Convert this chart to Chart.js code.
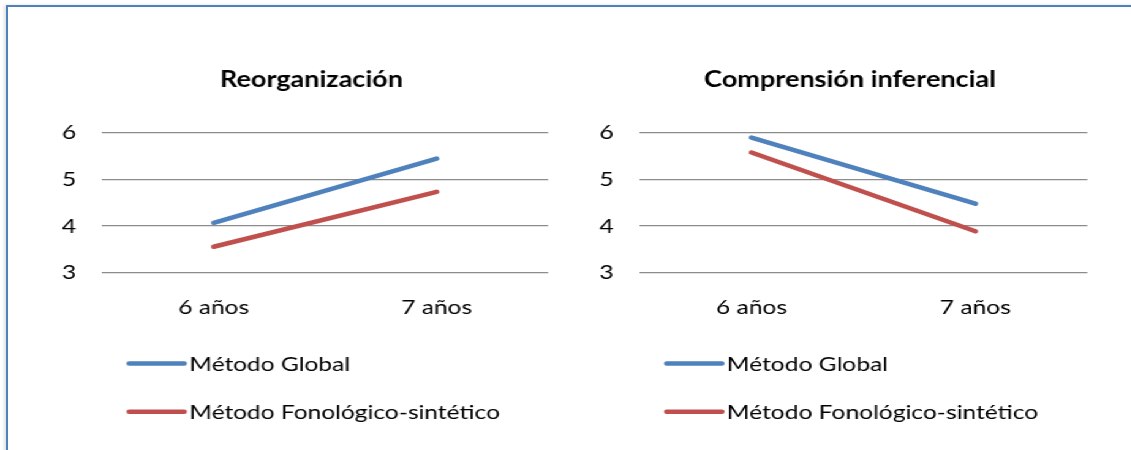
<!DOCTYPE html>
<html>
<head>
<meta charset="utf-8">
<script src="https://cdn.jsdelivr.net/npm/chart.js@4.4.0/dist/chart.umd.min.js"></script>
<style>
  html, body { margin: 0; padding: 0; background: #fff; }
  body { width: 1131px; height: 450px; position: relative; overflow: hidden; }
  #frame {
    position: absolute; left: 6px; top: 5px; width: 1200px; height: 500px;
    border-top: 2px solid #4f81bd; border-left: 2px solid #4f81bd;
    box-shadow: -2px 0 3px rgba(0,0,0,0.12);
  }
  /* the whole figure is drawn a little narrow and stretched sideways */
  #stage { position: absolute; left: 0; top: 0; height: 450px; transform-origin: 0 0; }
  .box { position: absolute; top: 40px; height: 410px; }
</style>
</head>
<body>
<div id="frame"></div>
<div id="stage">
  <div class="box" id="left-box"><canvas id="chart-left"></canvas></div>
  <div class="box" id="right-box"><canvas id="chart-right"></canvas></div>
</div>

<script>
const categories = ["6 años", "7 años"];
const seriesNames = ["Método Global", "Método Fonológico-sintético"];
const seriesColors = ["#4f81bd", "#c0504d"];

const reorgGlobal = [4.07, 5.44];
const reorgFonologico = [3.56, 4.73];

const inferGlobal = [5.89, 4.48];
const inferFonologico = [5.57, 3.89];

const yMin = 3;
const yMax = 6;

const FONT = "Lato";
const STRETCH = 1.225;

const stage = document.getElementById("stage");
stage.style.width = (1131 / STRETCH) + "px";
stage.style.transform = "scaleX(" + STRETCH + ")";

function placeBox(id, left, width) {
  const el = document.getElementById(id);
  el.style.left = (left / STRETCH) + "px";
  el.style.width = (width / STRETCH) + "px";
}
placeBox("left-box", 40, 542);
placeBox("right-box", 580, 540);

// legend drawn as two stacked rows under the x axis
const stackedLegend = {
  id: "stackedLegend",
  afterDraw(chart) {
    const ctx = chart.ctx;
    const area = chart.chartArea;
    ctx.save();
    chart.data.datasets.forEach((ds, i) => {
      const y = area.bottom + 90.5 + i * 48.3;
      const x0 = area.left + 27 / STRETCH;
      ctx.strokeStyle = ds.borderColor;
      ctx.lineWidth = 4.5;
      ctx.lineCap = "round";
      ctx.beginPath();
      ctx.moveTo(x0, y);
      ctx.lineTo(x0 + 55 / STRETCH, y);
      ctx.stroke();
      ctx.fillStyle = "#000";
      ctx.font = "20px " + FONT;
      ctx.textBaseline = "middle";
      ctx.textAlign = "left";
      ctx.fillText(ds.label, x0 + 60 / STRETCH, y + 1);
    });
    ctx.restore();
  }
};

// pad: side padding; spacer: width of an empty right axis that keeps the title centred
function makeChart(canvasId, title, globalVals, fonoVals, pad, spacer) {
  return new Chart(document.getElementById(canvasId), {
    type: "line",
    plugins: [stackedLegend],
    data: {
      labels: categories,
      datasets: [
        { label: seriesNames[0], data: globalVals, borderColor: seriesColors[0] },
        { label: seriesNames[1], data: fonoVals, borderColor: seriesColors[1] }
      ].map(d => Object.assign(d, {
        borderWidth: 4.5,
        borderCapStyle: "round",
        pointRadius: 0,
        tension: 0,
        fill: false
      }))
    },
    options: {
      responsive: true,
      maintainAspectRatio: false,
      animation: false,
      layout: { padding: { left: pad / STRETCH, right: pad / STRETCH, top: 0, bottom: 115 } },
      plugins: {
        legend: { display: false },
        tooltip: { enabled: false },
        title: {
          display: true,
          text: title,
          color: "#000",
          font: { family: FONT, size: 22, weight: "bold" },
          padding: { top: 27, bottom: 39 }
        }
      },
      scales: {
        x: {
          offset: true,
          grid: { display: false },
          border: { display: false },
          ticks: { color: "#000", font: { family: FONT, size: 20 }, padding: 15 }
        },
        y: {
          min: yMin,
          max: yMax,
          afterFit(scale) { scale.width = 40 / STRETCH; },
          grid: { color: "#8c8c8c", lineWidth: 1.3, drawTicks: false },
          border: { display: false },
          ticks: { stepSize: 1, color: "#000", font: { family: FONT, size: 20 }, padding: 26 / STRETCH }
        },
        spacer: {
          position: "right",
          min: yMin,
          max: yMax,
          afterFit(scale) { scale.width = spacer / STRETCH; },
          grid: { display: false },
          border: { display: false },
          ticks: { display: false }
        }
      }
    }
  });
}

makeChart("chart-left", "Reorganización", reorgGlobal, reorgFonologico, 21.7, 12.6);
makeChart("chart-right", "Comprensión inferencial", inferGlobal, inferFonologico, 20, 13.3);
</script>
</body>
</html>
